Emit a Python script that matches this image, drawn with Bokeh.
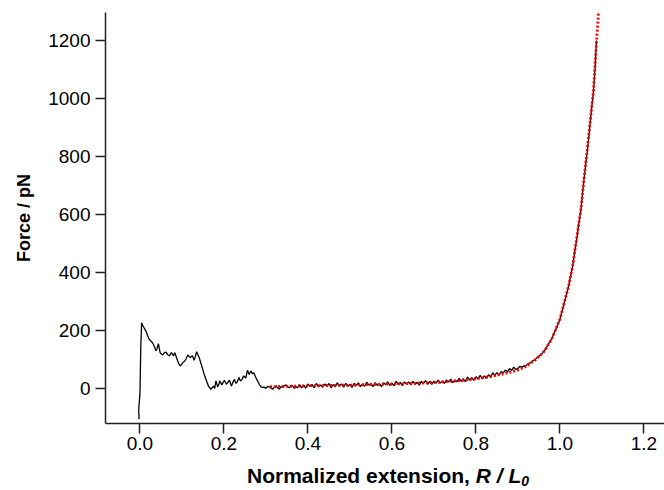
from bokeh.plotting import figure
from bokeh.models import Range1d, FixedTicker, Div
from bokeh.layouts import column
from bokeh.embed import file_html
from bokeh.resources import INLINE

# Measured force-extension trace (black)
ext_a = [-0.002, -0.003, -0.002, 0.000, 0.001, 0.002, 0.004, 0.008, 0.014, 0.018, 0.022, 0.026,
         0.030, 0.034, 0.038, 0.041, 0.044, 0.048, 0.051, 0.054, 0.058, 0.062, 0.066, 0.070,
         0.075, 0.080, 0.083, 0.087, 0.090, 0.093, 0.096, 0.099, 0.102, 0.107, 0.110, 0.114,
         0.117, 0.120, 0.125, 0.129, 0.132, 0.135, 0.138, 0.141, 0.147, 0.153, 0.158, 0.163,
         0.169, 0.172, 0.175, 0.178, 0.181, 0.185, 0.188, 0.190, 0.195, 0.198, 0.201, 0.206,
         0.210, 0.213, 0.218, 0.222, 0.225, 0.228, 0.231, 0.236, 0.239, 0.242, 0.247, 0.252,
         0.256, 0.260, 0.264, 0.268, 0.271, 0.276, 0.280, 0.284, 0.288, 0.292, 0.296, 0.300,
         0.304, 0.308, 0.312, 0.316, 0.320, 0.324, 0.328, 0.332, 0.336, 0.340, 0.344, 0.348,
         0.352, 0.356, 0.360, 0.364, 0.368, 0.372, 0.375]
force_a = [-104, -75, -52, -18, 60, 142, 228, 215, 200, 185, 171, 165,
           159, 148, 131, 140, 156, 125, 120, 117, 124, 127, 118, 114,
           125, 114, 125, 108, 96, 85, 79, 84, 91, 96, 104, 117,
           112, 108, 114, 99, 112, 128, 118, 108, 80, 50, 30, 10,
           -1, 4, 10, 2, 28, 7, 16, 28, 14, 22, 30, 16,
           24, 30, 10, 25, 33, 20, 22, 39, 28, 30, 45, 37,
           64, 50, 62, 52, 56, 39, 28, 16, 8, 5, 6, 2,
           9, 7, 3, -1, 6, 10, 4, -1, 8, 5, 11, 14,
           7, 4, 12, 10, 2, 8, 4]

ext_b = [0.380, 0.385, 0.390, 0.395, 0.400, 0.405, 0.410, 0.415, 0.420, 0.425,
         0.430, 0.435, 0.440, 0.445, 0.450, 0.455, 0.460, 0.465, 0.470, 0.475,
         0.480, 0.485, 0.490, 0.495, 0.500, 0.505, 0.510, 0.515, 0.520, 0.525,
         0.530, 0.535, 0.540, 0.545, 0.550, 0.555, 0.560, 0.565, 0.570, 0.575,
         0.580, 0.585, 0.590, 0.595, 0.600, 0.605, 0.610, 0.615, 0.620, 0.625,
         0.630, 0.635, 0.640, 0.645, 0.650, 0.655, 0.660, 0.665, 0.670, 0.675,
         0.680, 0.685, 0.690, 0.695, 0.700, 0.705, 0.710, 0.715, 0.720, 0.725,
         0.730, 0.735, 0.740, 0.745, 0.750, 0.755, 0.760, 0.765, 0.770, 0.775,
         0.780, 0.785, 0.790, 0.795, 0.800, 0.805, 0.810, 0.815, 0.820, 0.825,
         0.830, 0.835, 0.840, 0.845, 0.850, 0.855, 0.860, 0.865, 0.870, 0.875,
         0.880, 0.885, 0.890, 0.895, 0.900, 0.905, 0.910, 0.915, 0.920, 0.925,
         0.930, 0.935, 0.940, 0.945, 0.950]
force_b = [15, 4, 13, 3, 17, 9, 15, 4, 19, 7,
           14, 6, 17, 9, 19, 4, 15, 7, 21, 10,
           17, 6, 19, 9, 15, 5, 19, 11, 21, 8,
           17, 9, 23, 13, 19, 8, 22, 12, 19, 8,
           21, 15, 24, 12, 20, 11, 26, 15, 22, 11,
           24, 17, 24, 14, 26, 16, 23, 13, 26, 18,
           29, 16, 26, 16, 27, 20, 30, 20, 27, 19,
           31, 24, 34, 22, 31, 25, 36, 26, 35, 25,
           41, 30, 39, 30, 42, 34, 47, 35, 45, 36,
           49, 40, 56, 47, 56, 47, 60, 55, 65, 58,
           70, 64, 75, 67, 71, 78, 75, 80, 81, 88,
           90, 97, 100, 107, 113]

ext_c = [0.955, 0.960, 0.965, 0.970, 0.975, 0.980, 0.985, 0.990, 0.995, 1.000,
         1.005, 1.010, 1.015, 1.020, 1.025, 1.030, 1.035, 1.040, 1.045, 1.050,
         1.055, 1.060, 1.065, 1.070, 1.075, 1.080, 1.084, 1.087]
force_c = [118, 125, 135, 148, 160, 172, 188, 205, 222, 240,
           268, 295, 322, 350, 385, 420, 470, 515, 570, 615,
           690, 755, 815, 885, 960, 1025, 1110, 1200]

# Fit (red dotted)
fit_ext = [0.31, 0.35, 0.40, 0.45, 0.50, 0.55, 0.60, 0.65, 0.70, 0.75, 0.80, 0.84,
           0.87, 0.90, 0.92, 0.94, 0.96, 0.98, 1.00, 1.02, 1.03, 1.04, 1.05, 1.06,
           1.07, 1.08, 1.085, 1.092]
fit_force = [8, 9, 11, 12, 13, 15, 17, 19, 22, 27, 35, 44,
             53, 65, 78, 98, 125, 170, 240, 350, 420, 520, 620, 760,
             890, 1030, 1150, 1300]

x_ticks = [0.0, 0.2, 0.4, 0.6, 0.8, 1.0, 1.2]
y_ticks = [0, 200, 400, 600, 800, 1000, 1200]

FONT = "Liberation Sans"

p = figure(width=664, height=465, output_backend="svg", toolbar_location=None,
           x_range=Range1d(-0.082, 1.249), y_range=Range1d(-119, 1296),
           min_border_left=105, min_border_right=0, min_border_top=12, min_border_bottom=42)
p.outline_line_color = None
p.xgrid.grid_line_color = None
p.ygrid.grid_line_color = None
p.background_fill_color = "white"
p.border_fill_color = "white"

ext_all = ext_a + ext_b + ext_c
force_all = force_a + force_b + force_c
p.line(ext_all, force_all, line_color="black", line_width=1.3)
p.line(fit_ext, fit_force, line_color="#ff0000", line_width=2.8, line_dash="2 2")

for ax in (p.xaxis[0], p.yaxis[0]):
    ax.axis_line_color = "#222222"
    ax.axis_line_width = 1.5
    ax.major_tick_line_color = "#222222"
    ax.major_tick_line_width = 1.5
    ax.major_tick_out = 10
    ax.major_tick_in = 0
    ax.minor_tick_out = 0
    ax.minor_tick_in = 0
    ax.major_label_text_font = FONT
    ax.major_label_text_font_size = "19px"
    ax.major_label_text_color = "black"

p.xaxis[0].ticker = FixedTicker(ticks=x_ticks)
p.yaxis[0].ticker = FixedTicker(ticks=y_ticks)
p.xaxis[0].major_label_overrides = {t: f"{t:.1f}" for t in x_ticks}
p.xaxis[0].major_label_standoff = 3
p.yaxis[0].major_label_standoff = 5

p.yaxis[0].axis_label = "Force / pN"
p.yaxis[0].axis_label_text_font = FONT
p.yaxis[0].axis_label_text_font_style = "bold"
p.yaxis[0].axis_label_text_font_size = "18px"
p.yaxis[0].axis_label_text_color = "black"
p.yaxis[0].axis_label_standoff = 11

xlabel_html = (
    '<div style="font-family:\'Liberation Sans\',Arial,sans-serif;font-weight:bold;'
    'font-size:21px;line-height:21px;color:black;white-space:nowrap;'
    'padding-left:247px;padding-top:0px;">'
    'Normalized extension, <i>R / L<span style="font-size:14px;position:relative;top:3px;">0</span></i>'
    '</div>'
)
xlabel = Div(text=xlabel_html, width=664, height=25, margin=(0, 0, 0, 0))

layout = column(p, xlabel, spacing=0)

open("out.html", "w").write(file_html(layout, INLINE))
